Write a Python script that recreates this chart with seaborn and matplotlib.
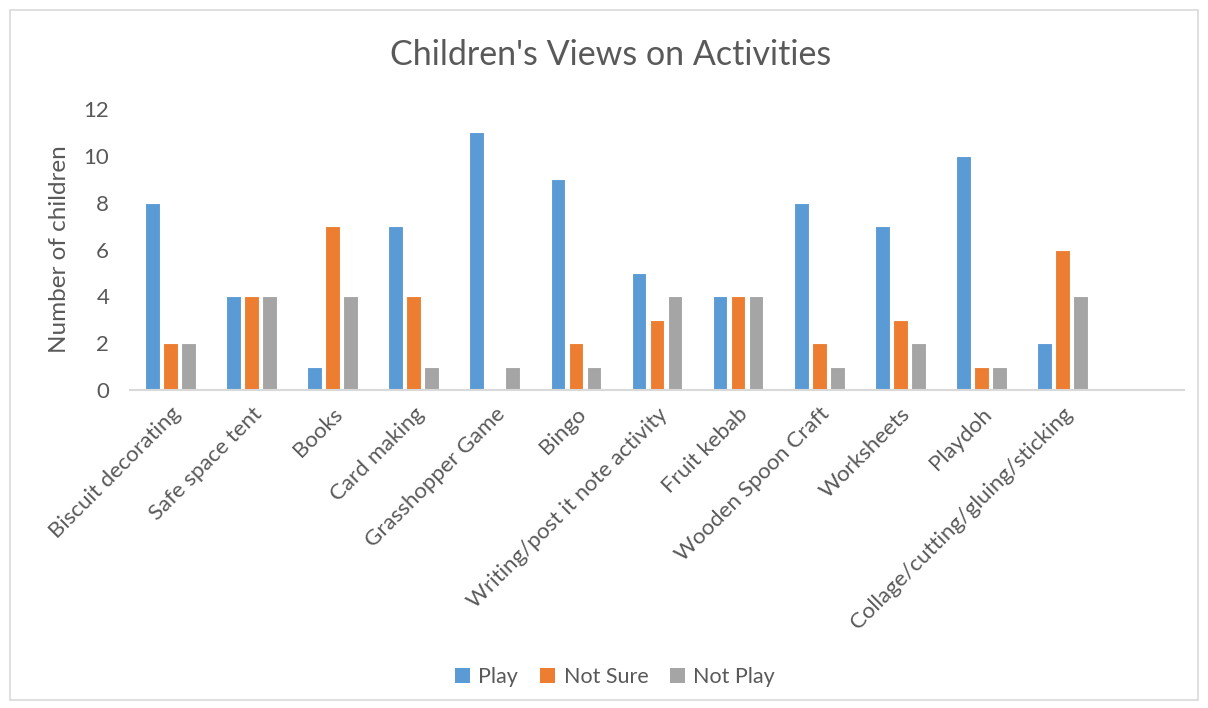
import matplotlib
matplotlib.use("Agg")
import matplotlib.pyplot as plt
import seaborn as sns
import pandas as pd
import numpy as np
from matplotlib.patches import Rectangle, Patch

categories = ["Biscuit decorating", "Safe space tent", "Books", "Card making",
              "Grasshopper Game", "Bingo", "Writing/post it note activity",
              "Fruit kebab", "Wooden Spoon Craft", "Worksheets", "Playdoh",
              "Collage/cutting/gluing/sticking"]
play = [8, 4, 1, 7, 11, 9, 5, 4, 8, 7, 10, 2]
not_sure = [2, 4, 7, 4, 0, 2, 3, 4, 2, 3, 1, 6]
not_play = [2, 4, 4, 1, 1, 1, 4, 4, 1, 2, 1, 4]
series = ["Play", "Not Sure", "Not Play"]
colors = ["#5B9BD5", "#ED7D31", "#A5A5A5"]
yticks = [0, 2, 4, 6, 8, 10, 12]

rows = []
for name, vals in zip(series, [play, not_sure, not_play]):
    for c, v in zip(categories, vals):
        rows.append({"Activity": c, "Response": name, "Count": v})
df = pd.DataFrame(rows)

sns.set_theme(style="white")
plt.rcParams["font.family"] = ["Lato", "DejaVu Sans"]
txt = "#595959"

fig = plt.figure(figsize=(12.08, 7.08), dpi=100)
ax = fig.add_axes([130/1208, 1-390/708, (1184-130)/1208, (390-109)/708])

sns.barplot(data=df, x="Activity", y="Count", hue="Response", order=categories,
            hue_order=series, palette=colors, width=0.667, gap=0.18,
            edgecolor="white", linewidth=0.8, ax=ax, legend=False, saturation=1)

ax.set_xlim(-0.5, len(categories) + 0.5)
ax.set_ylim(0, 12)
ax.set_yticks(yticks)
ax.set_yticklabels([str(t) for t in yticks], fontsize=16, color=txt)
ax.tick_params(axis="y", length=0, pad=15)
ax.set_xticks(range(len(categories)))
ax.set_xticklabels(categories, rotation=45, ha="right", rotation_mode="anchor",
                   fontsize=16, color=txt)
ax.tick_params(axis="x", which="major", length=0, pad=10)
ax.set_xticks(np.arange(-0.5, len(categories) + 1, 1), minor=True)
ax.tick_params(axis="x", which="minor", length=8, width=1.3, color="#D9D9D9")
for s in ["top", "right", "left"]:
    ax.spines[s].set_visible(False)
ax.spines["bottom"].set_color("#D9D9D9")
ax.spines["bottom"].set_linewidth(1.5)
ax.set_xlabel("")
ax.set_ylabel("Number of children", fontsize=17.5, color=txt, labelpad=10)
ax.grid(False)

fig.text(611/1208, 1-55/708, "Children's Views on Activities", ha="center",
         va="center", fontsize=24.5, color=txt)

handles = [Patch(facecolor=c, edgecolor="none") for c in colors]
fig.legend(handles, series, loc="center", bbox_to_anchor=(615/1208, 1-677/708),
           ncol=3, frameon=False, fontsize=15.5, labelcolor=txt,
           handlelength=0.7, handleheight=0.7, columnspacing=1.0, handletextpad=0.4)

fig.patches.append(Rectangle((10/1208, 1-700/708), 1188/1208, 690/708,
                             transform=fig.transFigure, fill=False,
                             edgecolor="#D9D9D9", linewidth=1.2))

fig.savefig("out.png", dpi=100)
